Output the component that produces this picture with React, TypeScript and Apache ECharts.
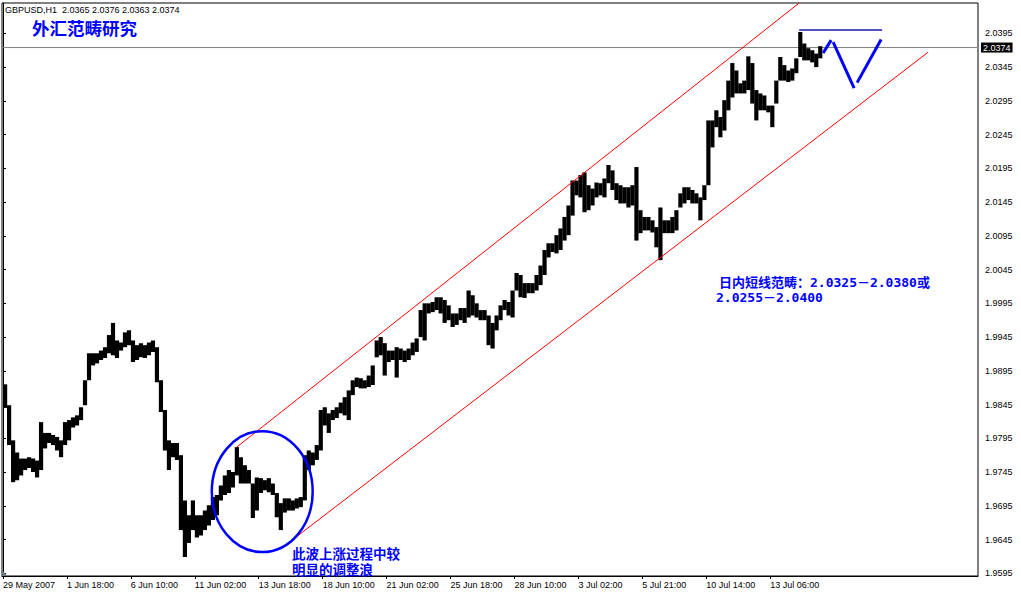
import React, { useEffect, useRef } from 'react';
import * as echarts from 'echarts';

// ---------- data ----------
const SYMBOL = 'GBPUSD,H1';
const LAST_OHLC = [2.0365, 2.0376, 2.0363, 2.0374];
const BAR_HOURS = 4; // each drawn column aggregates 4 hourly bars
const PRICE_SCALE = 10000;

// column highs / lows in 1/10000 price units
const HIGHS = [
  19875, 19844, 19792, 19774, 19765, 19765, 19767, 19765, 19762, 19819,
  19803, 19803, 19800, 19797, 19792, 19819, 19822, 19826, 19829, 19841,
  19881, 19921, 19921, 19921, 19925, 19930, 19948, 19966, 19940, 19937,
  19952, 19955, 19940, 19933, 19936, 19933, 19937, 19940, 19930, 19881,
  19837, 19792, 19788, 19788, 19770, 19703, 19681, 19703, 19681, 19681,
  19688, 19696, 19708, 19711, 19725, 19740, 19748, 19745, 19782, 19767,
  19755, 19748, 19728, 19737, 19736, 19733, 19736, 19728, 19714, 19699,
  19706, 19706, 19703, 19706, 19708, 19770, 19777, 19774, 19785, 19837,
  19841, 19832, 19837, 19841, 19848, 19856, 19866, 19881, 19885, 19884,
  19881, 19888, 19903, 19940, 19945, 19936, 19925, 19925, 19930, 19928,
  19925, 19928, 19937, 19943, 19985, 19995, 19995, 19997, 20004, 20004,
  20000, 19992, 19980, 19980, 19988, 19988, 20014, 20007, 19995, 19985,
  19985, 19977, 19966, 19977, 19992, 20000, 19997, 20014, 20040, 20037,
  20025, 20025, 20025, 20037, 20051, 20074, 20084, 20084, 20096, 20106,
  20123, 20140, 20177, 20177, 20185, 20189, 20170, 20165, 20174, 20173,
  20180, 20200, 20192, 20173, 20170, 20167, 20167, 20170, 20197, 20133,
  20123, 20123, 20118, 20108, 20137, 20118, 20118, 20123, 20133, 20158,
  20167, 20167, 20163, 20158, 20152, 20170, 20266, 20266, 20281, 20271,
  20296, 20325, 20351, 20340, 20321, 20325, 20361, 20351, 20311, 20306,
  20303, 20288, 20288, 20325, 20360, 20348, 20340, 20343, 20358, 20397,
  20380, 20373, 20370, 20365, 20376,
];
const LOWS = [
  19840, 19785, 19730, 19733, 19740, 19748, 19751, 19745, 19737, 19748,
  19780, 19788, 19785, 19777, 19767, 19785, 19792, 19811, 19814, 19822,
  19844, 19881, 19903, 19906, 19911, 19914, 19921, 19918, 19914, 19925,
  19930, 19933, 19908, 19911, 19915, 19914, 19918, 19923, 19878, 19834,
  19777, 19748, 19767, 19763, 19659, 19619, 19640, 19659, 19648, 19651,
  19659, 19666, 19674, 19681, 19703, 19711, 19714, 19722, 19740, 19728,
  19728, 19728, 19677, 19688, 19714, 19718, 19715, 19711, 19678, 19659,
  19685, 19688, 19688, 19691, 19693, 19703, 19748, 19755, 19763, 19777,
  19814, 19803, 19822, 19825, 19832, 19829, 19822, 19859, 19871, 19869,
  19869, 19871, 19874, 19915, 19918, 19888, 19908, 19911, 19885, 19911,
  19908, 19911, 19918, 19923, 19945, 19940, 19980, 19982, 19985, 19980,
  19966, 19970, 19960, 19963, 19970, 19966, 19974, 19977, 19974, 19970,
  19970, 19933, 19928, 19955, 19970, 19985, 19977, 19974, 20014, 20004,
  20003, 20010, 20010, 20014, 20022, 20037, 20063, 20071, 20069, 20074,
  20088, 20096, 20125, 20155, 20152, 20130, 20133, 20140, 20152, 20155,
  20152, 20173, 20163, 20148, 20143, 20143, 20137, 20140, 20088, 20099,
  20103, 20103, 20100, 20078, 20059, 20099, 20099, 20099, 20103, 20137,
  20143, 20148, 20143, 20143, 20118, 20148, 20170, 20226, 20256, 20241,
  20251, 20281, 20300, 20306, 20306, 20306, 20311, 20291, 20266, 20281,
  20281, 20278, 20256, 20291, 20325, 20325, 20323, 20325, 20336, 20360,
  20355, 20355, 20352, 20345, 20358,
];

const X_TICK_STEP = 64; // hours between time labels
const X_TICK_LABELS = [
  '29 May 2007', '1 Jun 18:00', '6 Jun 10:00', '11 Jun 02:00', '13 Jun 18:00',
  '18 Jun 10:00', '21 Jun 02:00', '25 Jun 18:00', '28 Jun 10:00', '3 Jul 02:00',
  '5 Jul 21:00', '10 Jul 14:00', '13 Jul 06:00',
];
const Y_TICKS = [
  1.9595, 1.9645, 1.9695, 1.9745, 1.9795, 1.9845, 1.9895, 1.9945, 1.9995,
  2.0045, 2.0095, 2.0145, 2.0195, 2.0245, 2.0295, 2.0345, 2.0395,
];

// drawings (hours from first bar, price)
const CHANNEL_UPPER = [[234, 1.9782], [797, 2.044]];
const CHANNEL_LOWER = [[291, 1.9646], [926, 2.0367]];
const TARGET_LINE = [[797, 2.04], [880, 2.04]];
const FORECAST_SEGMENTS = [
  [[821, 2.0366], [829, 2.0385]],
  [[831, 2.0382], [852, 2.0314]],
  [[855, 2.0322], [879, 2.0386]],
];
const ELLIPSE = [259.5, 1.9716, 50.5, 0.00896]; // center hour, center price, radius hours, radius price

const TITLE_CN = '外汇范畴研究';
const RANGE_LINE1 = '日内短线范畴：2.0325－2.0380或';
const RANGE_LINE2 = '2.0255－2.0400';
const WAVE_LINES = ['此波上涨过程中较', '明显的调整浪'];

const X_MIN = -1;
const X_MAX = 976;
const Y_MIN = 1.9591;
const Y_MAX = 2.044;

const AXIS_FONT = 'Liberation Sans';
const CJK_FONT = '"Noto Sans CJK SC"';
const BLUE = '#0000ff';

function buildOption(): echarts.EChartsCoreOption {
  const barData = HIGHS.map((h, i) => [i * BAR_HOURS, LOWS[i] / PRICE_SCALE, h / PRICE_SCALE]);
  const xTickVals = X_TICK_LABELS.map((_, k) => k * X_TICK_STEP);
  const lastPrice = LAST_OHLC[3];

  const lineSeries = (data: number[][], color: string, width: number, extra: any = {}) => ({
    type: 'line',
    data,
    symbol: 'none',
    silent: true,
    clip: true,
    lineStyle: { color, width },
    z: 5,
    ...extra,
  });

  const text = (
    x: number,
    y: number,
    str: string,
    size: number,
    color: string,
    family: string,
    bold: boolean,
    lineHeight = size,
  ) => ({
    type: 'text',
    x,
    y,
    z: 100,
    style: {
      text: str,
      fill: color,
      fontSize: size,
      lineHeight,
      fontWeight: bold ? 'bold' : 'normal',
      fontFamily: family,
      align: 'left',
      verticalAlign: 'top',
    },
  });

  return {
    animation: false,
    backgroundColor: '#ffffff',
    grid: {
      left: 1,
      top: 3,
      width: 977,
      height: 573,
      show: true,
      borderColor: '#000',
      borderWidth: 1,
      backgroundColor: '#fff',
    },
    xAxis: {
      type: 'value',
      min: X_MIN,
      max: X_MAX,
      axisLine: { show: true, lineStyle: { color: '#000', width: 1 } },
      axisTick: { show: true, customValues: xTickVals, length: 3, lineStyle: { color: '#000' } },
      axisLabel: {
        show: true,
        customValues: xTickVals,
        formatter: (v: number) => X_TICK_LABELS[Math.round(v / X_TICK_STEP)] ?? '',
        align: 'left',
        color: '#000',
        fontSize: 9,
        fontFamily: AXIS_FONT,
        margin: 4,
      },
      splitLine: { show: false },
    },
    yAxis: {
      type: 'value',
      position: 'right',
      min: Y_MIN,
      max: Y_MAX,
      axisLine: { show: true, lineStyle: { color: '#000', width: 1 } },
      axisTick: { show: true, customValues: Y_TICKS, length: 3, lineStyle: { color: '#000' } },
      axisLabel: {
        show: true,
        customValues: Y_TICKS,
        formatter: (v: number) => v.toFixed(4),
        color: '#000',
        fontSize: 9,
        fontFamily: AXIS_FONT,
        margin: 7,
      },
      splitLine: { show: false },
    },
    series: [
      // current price line with its axis tag
      {
        type: 'line',
        data: [[X_MIN, lastPrice], [X_MAX, lastPrice]],
        symbol: 'none',
        silent: true,
        clip: false,
        z: 2,
        lineStyle: { color: '#808080', width: 1 },
        endLabel: {
          show: true,
          formatter: () => lastPrice.toFixed(4),
          backgroundColor: '#000',
          color: '#fff',
          padding: [1, 2, 0, 2],
          fontSize: 9,
          fontFamily: AXIS_FONT,
          distance: 3,
        },
      },
      {
        type: 'custom',
        data: barData,
        encode: { x: 0, y: [1, 2] },
        clip: true,
        silent: true,
        z: 3,
        renderItem: (_p: any, api: any) => {
          const x = api.value(0);
          const lo = api.value(1);
          const hi = api.value(2);
          const a = api.coord([x, hi]);
          const b = api.coord([x + BAR_HOURS, lo]);
          return {
            type: 'rect',
            shape: { x: a[0], y: a[1], width: b[0] - a[0] + 0.2, height: Math.max(1, b[1] - a[1]) },
            style: { fill: '#000' },
          };
        },
      },
      lineSeries(CHANNEL_UPPER, '#ff0000', 1),
      lineSeries(CHANNEL_LOWER, '#ff0000', 1),
      lineSeries(TARGET_LINE, '#1a1aa8', 1.5),
      ...FORECAST_SEGMENTS.map((seg) => lineSeries(seg, BLUE, 3)),
      {
        type: 'custom',
        data: [ELLIPSE],
        encode: { x: 0, y: 1 },
        clip: false,
        silent: true,
        z: 6,
        renderItem: (_p: any, api: any) => {
          const c = api.coord([api.value(0), api.value(1)]);
          const s = api.size([api.value(2), api.value(3)]);
          return {
            type: 'ellipse',
            shape: { cx: c[0], cy: c[1], rx: s[0], ry: s[1] },
            style: { fill: 'none', stroke: BLUE, lineWidth: 2.5 },
          };
        },
      },
    ],
    graphic: [
      text(5, 5, `${SYMBOL}  ${LAST_OHLC.map((v) => v.toFixed(4)).join(' ')}`, 9, '#000', AXIS_FONT, false),
      text(32, 19, TITLE_CN, 17.5, BLUE, CJK_FONT, true),
      text(719, 276, RANGE_LINE1, 13, BLUE, `"DejaVu Sans Mono", ${CJK_FONT}`, true),
      text(716, 291, RANGE_LINE2, 13, BLUE, `"DejaVu Sans Mono", ${CJK_FONT}`, true),
      text(292, 545, WAVE_LINES.join('\n'), 13.5, BLUE, CJK_FONT, true, 16),
      {
        type: 'polygon',
        z: 100,
        shape: { points: [[2, 570], [2, 576], [7, 576]] },
        style: { fill: '#6a7a8a' },
      },
    ],
  };
}

export default function App() {
  const ref = useRef<HTMLDivElement>(null);
  useEffect(() => {
    if (!ref.current) return;
    const chart = echarts.init(ref.current, null, { renderer: 'svg' });
    chart.setOption(buildOption());
    return () => chart.dispose();
  }, []);
  return (
    <div
      ref={ref}
      style={{ position: 'fixed', left: 0, top: 0, width: 1021, height: 595, background: '#fff' }}
    />
  );
}
